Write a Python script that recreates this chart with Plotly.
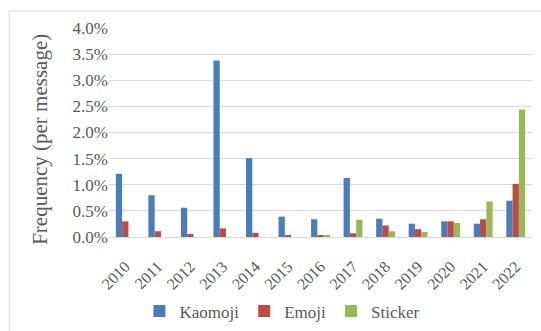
import plotly.graph_objects as go

years = ["2010", "2011", "2012", "2013", "2014", "2015", "2016",
         "2017", "2018", "2019", "2020", "2021", "2022"]
kaomoji = [1.21, 0.80, 0.56, 3.38, 1.51, 0.39, 0.34, 1.13, 0.35, 0.255, 0.30, 0.255, 0.695]
emoji = [0.30, 0.11, 0.06, 0.165, 0.08, 0.02, 0.02, 0.07, 0.22, 0.15, 0.30, 0.34, 1.015]
sticker = [0.0, 0.0, 0.0, 0.0, 0.0, 0.0, 0.02, 0.33, 0.11, 0.095, 0.27, 0.68, 2.44]
y_ticks = [0.0, 0.5, 1.0, 1.5, 2.0, 2.5, 3.0, 3.5, 4.0]

font_family = "Times New Roman, serif"
text_color = "#595959"

fig = go.Figure()
for name, vals, color in [("Kaomoji", kaomoji, "#4a7ebb"),
                          ("Emoji", emoji, "#be4b48"),
                          ("Sticker", sticker, "#98b954")]:
    fig.add_trace(go.Bar(x=years, y=[v / 100 for v in vals], name=name,
                         marker=dict(color=color, line=dict(width=0))))

fig.update_layout(
    width=541, height=331,
    margin=dict(l=109, r=9, t=28, b=94, autoexpand=False),
    paper_bgcolor="white", plot_bgcolor="white",
    barmode="group", bargap=0.42, bargroupgap=0,
    font=dict(family=font_family, color=text_color, size=15),
    showlegend=True,
    legend=dict(orientation="h", x=0.41, xanchor="center", y=-0.27, yanchor="top",
                font=dict(size=17, color=text_color),
                itemwidth=30, traceorder="normal"),
    shapes=[dict(type="rect", xref="paper", yref="paper",
                 x0=-0.236, x1=1.05, y0=-0.6, y1=1.081,
                 line=dict(color="#d9d9d9", width=1), fillcolor="rgba(0,0,0,0)")],
    annotations=[dict(text="Frequency (per message)", textangle=-90,
                      xref="paper", yref="paper", x=-0.163, y=0.465,
                      xanchor="center", yanchor="middle", showarrow=False,
                      font=dict(size=21, color=text_color))],
)
fig.update_xaxes(tickangle=-45, automargin=False,
                 tickfont=dict(size=16, color=text_color),
                 showgrid=False, showline=False,
                 ticks="outside", ticklen=13, tickcolor="rgba(0,0,0,0)")
fig.update_yaxes(range=[0, 0.04], tickvals=[t / 100 for t in y_ticks], automargin=False,
                 tickformat=".1%", tickfont=dict(size=17, color=text_color),
                 showgrid=True, gridcolor="#d9d9d9", gridwidth=1,
                 zeroline=True, zerolinecolor="#d9d9d9", zerolinewidth=1)

fig.write_html("out.html")
